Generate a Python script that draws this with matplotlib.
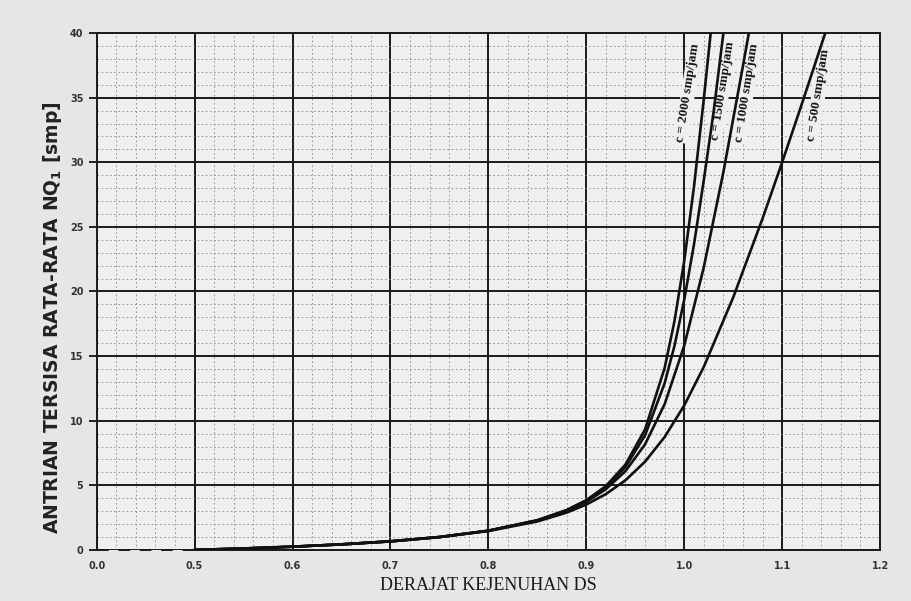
import numpy as np
import matplotlib
matplotlib.use("Agg")
import matplotlib.pyplot as plt
from matplotlib.ticker import FixedLocator

# derajat kejenuhan DS vs antrian NQ1, per kapasitas c (smp/jam)
ds_2000 = [0.5, 0.55, 0.6, 0.65, 0.7, 0.75, 0.8, 0.85, 0.88, 0.9, 0.92, 0.94, 0.96, 0.98, 0.99, 1.0, 1.01, 1.02, 1.027]
nq_2000 = [0, 0.11, 0.25, 0.43, 0.67, 1.0, 1.49, 2.30, 3.09, 3.85, 4.94, 6.61, 9.33, 14.08, 17.69, 22.36, 28.13, 34.9, 40]

ds_1500 = [0.5, 0.55, 0.6, 0.65, 0.7, 0.75, 0.8, 0.85, 0.88, 0.9, 0.92, 0.94, 0.96, 0.98, 0.99, 1.0, 1.01, 1.02, 1.03, 1.04]
nq_1500 = [0, 0.11, 0.25, 0.43, 0.66, 1.0, 1.49, 2.29, 3.06, 3.81, 4.86, 6.42, 8.87, 12.90, 15.78, 19.36, 23.66, 28.62, 33.9, 40]

ds_1000 = [0.5, 0.55, 0.6, 0.65, 0.7, 0.75, 0.8, 0.85, 0.88, 0.9, 0.92, 0.94, 0.96, 0.98, 1.0, 1.02, 1.04, 1.06, 1.066]
nq_1000 = [0, 0.11, 0.25, 0.43, 0.66, 0.99, 1.48, 2.27, 3.02, 3.72, 4.70, 6.10, 8.17, 11.28, 15.81, 21.88, 29.24, 37.47, 40]

ds_500 = [0.5, 0.55, 0.6, 0.65, 0.7, 0.75, 0.8, 0.85, 0.88, 0.9, 0.92, 0.94, 0.96, 0.98, 1.0, 1.02, 1.05, 1.08, 1.1, 1.12, 1.144]
nq_500 = [0, 0.11, 0.25, 0.43, 0.66, 0.99, 1.46, 2.20, 2.89, 3.51, 4.32, 5.39, 6.83, 8.74, 11.18, 14.17, 19.54, 25.65, 30.0, 34.49, 40]

curve_labels = ["c = 2000 smp/jam", "c = 1500 smp/jam", "c = 1000 smp/jam", "c = 500 smp/jam"]
label_x = [1.004, 1.039, 1.064, 1.137]
label_y = [35.4, 35.5, 35.4, 35.2]

x_ticks = [0.0, 0.5, 0.6, 0.7, 0.8, 0.9, 1.0, 1.1, 1.2]
y_ticks = [0, 5, 10, 15, 20, 25, 30, 35, 40]


# sumbu x patah: 0.0-0.5 dipadatkan jadi selebar 0.1
def fwd(x):
    x = np.asarray(x, dtype=float)
    return np.where(x < 0.5, 0.4 + x * 0.2, x)


def inv(t):
    t = np.asarray(t, dtype=float)
    return np.where(t < 0.5, (t - 0.4) / 0.2, t)


fig = plt.figure(figsize=(9.12, 6.01), dpi=100, facecolor="#e6e6e6")
ax = fig.add_axes([0.106, 0.085, 0.859, 0.86])
ax.set_facecolor("#efefef")
ax.set_xscale("function", functions=(fwd, inv))
ax.set_xlim(0, 1.2)
ax.set_ylim(0, 40)

ax.xaxis.set_major_locator(FixedLocator(x_ticks))
ax.xaxis.set_minor_locator(FixedLocator(list(np.arange(0.1, 0.5, 0.1)) + list(np.arange(0.52, 1.2, 0.02))))
ax.yaxis.set_major_locator(FixedLocator(y_ticks))
ax.yaxis.set_minor_locator(FixedLocator(range(0, 41)))

ax.grid(which="major", color="#1a1a1a", lw=1.4)
ax.grid(which="minor", color="#8a8a8a", lw=0.6, ls=(0, (2, 3)))
ax.set_axisbelow(True)

ax.tick_params(axis="x", which="both", length=0, pad=8, labelsize=7)
ax.tick_params(axis="y", which="major", length=6, width=1.2, direction="out", labelsize=7)
ax.tick_params(axis="y", which="minor", length=0)
for lab in ax.get_xticklabels() + ax.get_yticklabels():
    lab.set_fontweight("bold")
    lab.set_color("#333333")
ax.set_xticklabels([f"{v:.1f}" for v in x_ticks])

for s in ax.spines.values():
    s.set_color("#1a1a1a")
    s.set_linewidth(1.4)
ax.spines["bottom"].set_visible(False)

# garis dasar: putus-putus sebelum 0.5
ax.plot([0, 0.5], [0, 0], color="#1a1a1a", lw=1.4, ls=(0, (6, 5)), clip_on=False)
ax.plot([0.5, 1.2], [0, 0], color="#1a1a1a", lw=1.4, clip_on=False)

for xs, ys in [(ds_2000, nq_2000), (ds_1500, nq_1500), (ds_1000, nq_1000), (ds_500, nq_500)]:
    ax.plot(xs, ys, color="#111111", lw=1.9, solid_capstyle="round", zorder=4)

for txt, lx, ly in zip(curve_labels, label_x, label_y):
    ax.text(lx, ly, txt, rotation=81, ha="center", va="center", fontsize=9.5,
            fontweight="bold", family="Liberation Serif", color="#111111", zorder=3,
            bbox=dict(facecolor="#efefef", edgecolor="none", pad=0.8))

ax.set_ylabel("ANTRIAN TERSISA RATA-RATA NQ$_\\mathbf{1}$ [smp]", fontsize=13.5,
              fontweight="bold", color="#222222")
ax.yaxis.set_label_coords(-0.042, 0.45)
ax.set_xlabel("DERAJAT KEJENUHAN DS", fontsize=13, family="Liberation Serif",
              color="#1a1a1a", labelpad=4)

fig.savefig("out.png", dpi=100, facecolor=fig.get_facecolor())
